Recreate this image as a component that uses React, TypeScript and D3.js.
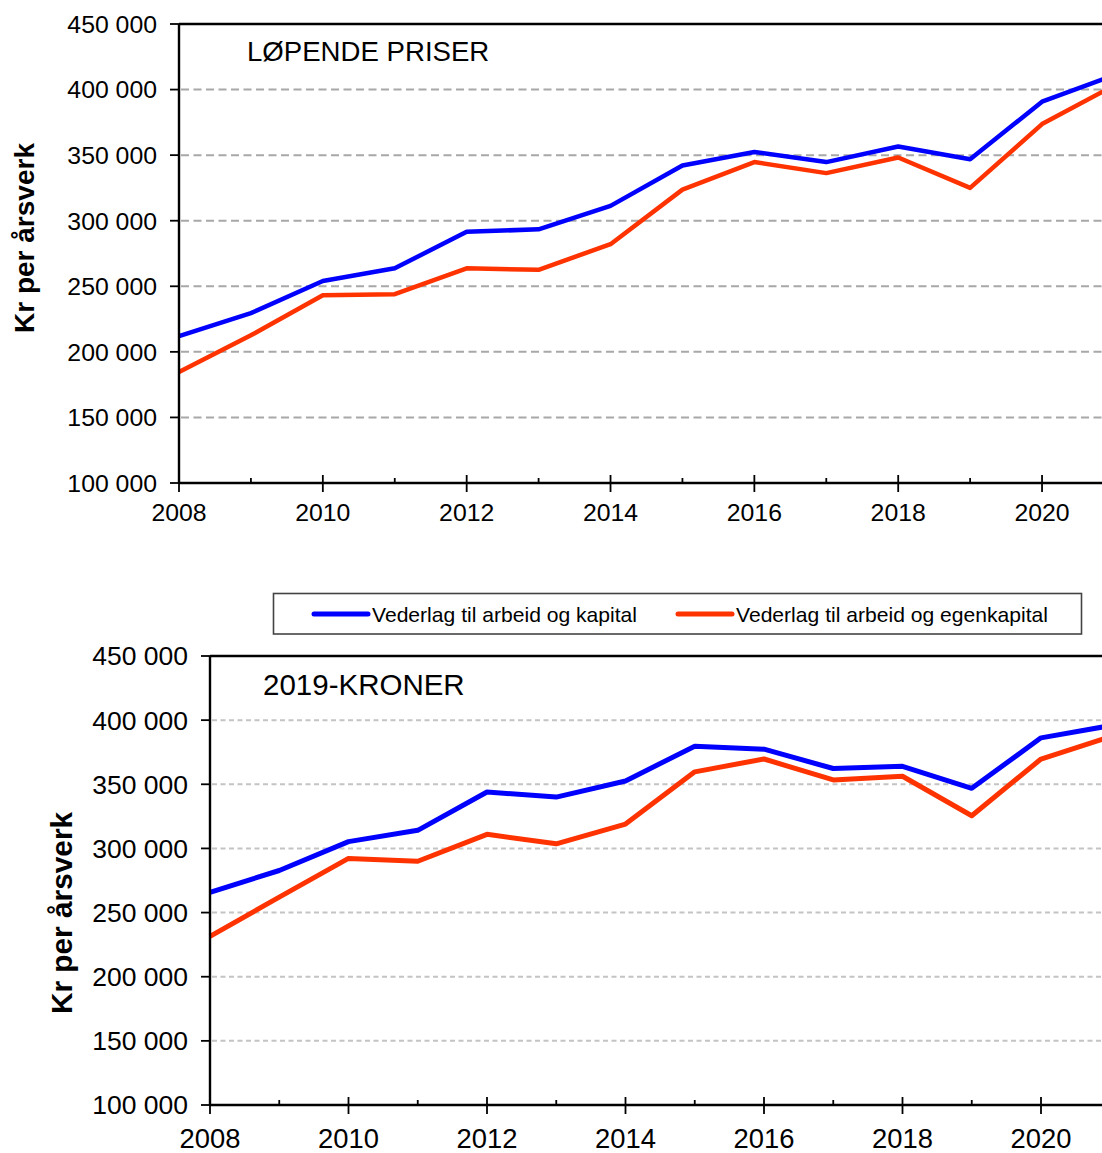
import React from "react";
import * as d3 from "d3";

// ---- Data (kr per årsverk) ----
const years = [2008, 2009, 2010, 2011, 2012, 2013, 2014, 2015, 2016, 2017, 2018, 2019, 2020, 2021];

const lopendeKapital = [212000, 229500, 254000, 263700, 291600, 293400, 311300, 342100, 352400, 344700, 356600, 346800, 390800, 411000];
const lopendeEgenkapital = [184700, 212600, 243200, 244000, 263700, 262600, 282100, 323700, 344700, 336300, 348200, 325000, 373700, 403000];

const kroner2019Kapital = [265700, 282800, 305300, 314100, 344000, 340000, 352600, 379700, 377400, 362300, 364000, 346900, 386200, 395700];
const kroner2019Egenkapital = [231500, 262000, 292200, 290000, 311000, 303600, 319000, 359700, 369700, 353400, 356300, 325500, 369700, 387000];

const yTicks = [100000, 150000, 200000, 250000, 300000, 350000, 400000, 450000];
const xTickYears = [2008, 2010, 2012, 2014, 2016, 2018, 2020];
const minorYears = [2009, 2011, 2013, 2015, 2017, 2019, 2021];

const seriesNames = ["Vederlag til arbeid og kapital", "Vederlag til arbeid og egenkapital"];
const seriesColors = ["#0000ff", "#ff3300"];
const titles = ["LØPENDE PRISER", "2019-KRONER"];
const yTitle = "Kr per årsverk";

const FONT = "'Liberation Sans', Arial, Helvetica, sans-serif";

const fmt = (v: number) => {
  const s = String(v);
  return s.length > 3 ? s.slice(0, s.length - 3) + " " + s.slice(-3) : s;
};

type PanelProps = {
  left: number;
  top: number;
  bottom: number;
  perYear: number;
  title: string;
  titleX: number;
  titleY: number;
  titleSize: number;
  tickSize: number;
  xTickSize: number;
  xLabelDy: number;
  yTitleX: number;
  yTitleY: number;
  yTitleSize: number;
  lineWidth: number;
  gridColor: string;
  gridDash: string;
  gridWidth: number;
  a: number[];
  b: number[];
};

function Panel(p: PanelProps) {
  const x = d3.scaleLinear().domain([2008, 2021]).range([p.left, p.left + 13 * p.perYear]);
  const y = d3.scaleLinear().domain([100000, 450000]).range([p.bottom, p.top]);
  const right = x(2021.6);
  const line = d3
    .line<number>()
    .x((_, i) => x(years[i]))
    .y((d) => y(d));
  const axisW = 2.4;
  return (
    <g>
      {/* gridlines */}
      {yTicks
        .filter((t) => t > 100000 && t < 450000)
        .map((t) => (
          <line
            key={"g" + t}
            x1={p.left + 2}
            x2={right}
            y1={y(t)}
            y2={y(t)}
            stroke={p.gridColor}
            strokeWidth={p.gridWidth}
            strokeDasharray={p.gridDash}
          />
        ))}
      {/* series */}
      <path d={line(p.a) || ""} fill="none" stroke={seriesColors[0]} strokeWidth={p.lineWidth} strokeLinejoin="round" />
      <path d={line(p.b) || ""} fill="none" stroke={seriesColors[1]} strokeWidth={p.lineWidth} strokeLinejoin="round" />
      {/* frame */}
      <line x1={p.left} x2={right} y1={p.top} y2={p.top} stroke="#000" strokeWidth={axisW} />
      <line x1={p.left} x2={right} y1={p.bottom} y2={p.bottom} stroke="#000" strokeWidth={axisW} />
      <line x1={p.left} x2={p.left} y1={p.top} y2={p.bottom} stroke="#000" strokeWidth={axisW} />
      {/* y ticks */}
      {yTicks.map((t) => (
        <g key={"y" + t}>
          <line x1={p.left - 9} x2={p.left} y1={y(t)} y2={y(t)} stroke="#000" strokeWidth={1.8} />
          <text
            x={p.left - 22}
            y={y(t) + p.tickSize * 0.358}
            textAnchor="end"
            fontFamily={FONT}
            fontSize={p.tickSize}
            fill="#000"
          >
            {fmt(t)}
          </text>
        </g>
      ))}
      {/* x ticks */}
      {xTickYears.map((yr) => (
        <g key={"x" + yr}>
          <line x1={x(yr)} x2={x(yr)} y1={p.bottom - 8} y2={p.bottom + 9} stroke="#000" strokeWidth={1.8} />
          <text
            x={x(yr)}
            y={p.bottom + p.xLabelDy}
            textAnchor="middle"
            fontFamily={FONT}
            fontSize={p.xTickSize}
            fill="#000"
          >
            {yr}
          </text>
        </g>
      ))}
      {minorYears.map((yr) => (
        <line key={"m" + yr} x1={x(yr)} x2={x(yr)} y1={p.bottom - 5} y2={p.bottom} stroke="#000" strokeWidth={1.8} />
      ))}
      {/* title */}
      <text x={p.titleX} y={p.titleY} fontFamily={FONT} fontSize={p.titleSize} fill="#000">
        {p.title}
      </text>
      {/* y axis title */}
      <text
        transform={`translate(${p.yTitleX},${p.yTitleY}) rotate(-90)`}
        textAnchor="middle"
        fontFamily={FONT}
        fontSize={p.yTitleSize}
        fontWeight="bold"
        fill="#000"
      >
        {yTitle}
      </text>
    </g>
  );
}

function Legend() {
  const items = [
    { x1: 314, x2: 368, tx: 372 },
    { x1: 678, x2: 732, tx: 736 },
  ];
  const cy = 614;
  return (
    <g>
      <rect x={273.5} y={593.5} width={808} height={40.5} fill="#fff" stroke="#444" strokeWidth={1.6} />
      {items.map((it, i) => (
        <g key={i}>
          <line x1={it.x1} x2={it.x2} y1={cy} y2={cy} stroke={seriesColors[i]} strokeWidth={5} strokeLinecap="round" />
          <text x={it.tx} y={cy + 7.5} fontFamily={FONT} fontSize={21.1} fill="#000">
            {seriesNames[i]}
          </text>
        </g>
      ))}
    </g>
  );
}

export default function App() {
  return (
    <div style={{ position: "absolute", left: 0, top: 0, width: 1102, height: 1153, overflow: "hidden", background: "#fff" }}>
      <svg width={1102} height={1153} style={{ display: "block" }}>
        <rect x={0} y={0} width={1102} height={1153} fill="#fff" />
        <Panel
          left={179}
          top={24}
          bottom={483}
          perYear={71.92}
          title={titles[0]}
          titleX={247}
          titleY={61}
          titleSize={27.6}
          tickSize={24.8}
          xTickSize={24.8}
          xLabelDy={38}
          yTitleX={33.5}
          yTitleY={238}
          yTitleSize={28}
          lineWidth={4.5}
          gridColor="#a8a8a8"
          gridDash="8,4.5"
          gridWidth={2}
          a={lopendeKapital}
          b={lopendeEgenkapital}
        />
        <Legend />
        <Panel
          left={210}
          top={656}
          bottom={1105}
          perYear={69.25}
          title={titles[1]}
          titleX={263}
          titleY={695}
          titleSize={29.5}
          tickSize={26.5}
          xTickSize={27.4}
          xLabelDy={43}
          yTitleX={72}
          yTitleY={913}
          yTitleSize={29.8}
          lineWidth={5}
          gridColor="#c4c4c4"
          gridDash="5,3.5"
          gridWidth={2}
          a={kroner2019Kapital}
          b={kroner2019Egenkapital}
        />
      </svg>
    </div>
  );
}
